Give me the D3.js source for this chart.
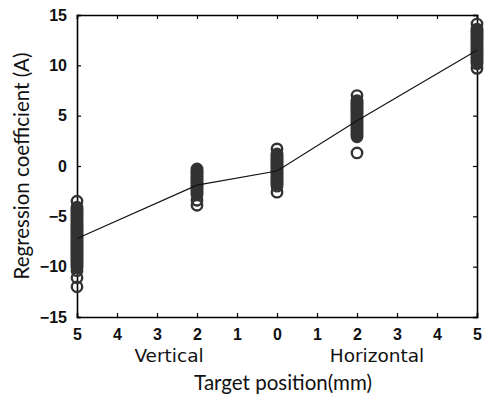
<!DOCTYPE html>
<html><head><meta charset="utf-8">
<script src="https://cdn.jsdelivr.net/npm/d3@7"></script>
<style>body{margin:0;background:#fff}svg{display:block}</style>
</head><body>
<script>
// Data
const positions = [-5, -2, 0, 2, 5];           // left = vertical, right = horizontal
const meanValues = [-7.2, -1.9, -0.5, 4.5, 11.5];
const groupV5 = [-3.5,-4.1,-4.25,-4.4,-4.55,-4.7,-4.85,-5.0,-5.15,-5.3,-5.45,-5.6,-5.75,-5.9,-6.05,-6.2,-6.35,-6.5,-6.65,-6.8,-6.95,-7.1,-7.25,-7.4,-7.55,-7.7,-7.85,-8.0,-8.15,-8.3,-8.45,-8.6,-8.75,-8.9,-9.05,-9.2,-9.35,-9.5,-9.65,-9.8,-9.95,-10.1,-10.4,-11.1,-12.0];
const groupV2 = [-0.3,-0.45,-0.6,-0.75,-0.9,-1.05,-1.2,-1.35,-1.5,-1.65,-1.8,-1.95,-2.1,-2.25,-2.4,-2.55,-2.7,-2.85,-3.4,-3.9];
const groupC0 = [1.7,1.2,1.05,0.9,0.75,0.6,0.45,0.3,0.15,0.0,-0.15,-0.3,-0.45,-0.6,-0.75,-0.9,-1.05,-1.2,-1.35,-1.5,-1.65,-1.8,-2.0,-2.6];
const groupH2 = [7.0,6.5,6.35,6.2,6.05,5.9,5.75,5.6,5.45,5.3,5.15,5.0,4.85,4.7,4.55,4.4,4.25,4.1,3.95,3.8,3.65,3.5,3.35,3.2,3.05,2.9,1.3];
const groupH5 = [14.1,13.6,13.45,13.3,13.15,13.0,12.85,12.7,12.55,12.4,12.25,12.1,11.95,11.8,11.65,11.5,11.35,11.2,11.05,10.9,10.75,10.6,10.45,10.3,10.15,9.7];
const groups = [groupV5, groupV2, groupC0, groupH2, groupH5];
const xTickValues = [-5,-4,-3,-2,-1,0,1,2,3,4,5];
const xTickLabels = ["5","4","3","2","1","0","1","2","3","4","5"];
const yTickValues = [-15,-10,-5,0,5,10,15];
const xTitle = "Target position(mm)";
const yTitle = "Regression coefficient (A)";
const subLabels = [{text:"Vertical", at:-2.7},{text:"Horizontal", at:2.5}];

const W = 484, H = 410;
const m = {left:77, right:7, top:15, bottom:93};
const svg = d3.select("body").append("svg").attr("width", W).attr("height", H);
const x = d3.scaleLinear().domain([-5,5]).range([m.left, W - m.right]);
const y = d3.scaleLinear().domain([-15,15]).range([H - m.bottom, m.top]);

const g = svg.append("g");
const tickFont = "'Liberation Sans', Arial, sans-serif";

// axes (ticks inward)
const xb = g.append("g").attr("transform", `translate(0,${y(-15)})`)
  .call(d3.axisBottom(x).tickValues(xTickValues).tickFormat((d,i)=>xTickLabels[i]).tickSize(-4).tickPadding(12));
const xt = g.append("g").attr("transform", `translate(0,${y(15)})`)
  .call(d3.axisTop(x).tickValues(xTickValues).tickFormat("").tickSize(-4));
const yl = g.append("g").attr("transform", `translate(${x(-5)},0)`)
  .call(d3.axisLeft(y).tickValues(yTickValues).tickFormat(d3.format("d")).tickSize(-4).tickPadding(10));
const yr = g.append("g").attr("transform", `translate(${x(5)},0)`)
  .call(d3.axisRight(y).tickValues(yTickValues).tickFormat("").tickSize(-4));
[xb,xt,yl,yr].forEach(a=>{
  a.selectAll(".domain").attr("stroke","#000").attr("stroke-width",1.6);
  a.selectAll(".tick line").attr("stroke","#000").attr("stroke-width",1.2);
  a.selectAll("text").attr("font-family",tickFont).attr("font-size",16).attr("font-weight","bold").attr("fill","#111");
});
yl.selectAll("text").text(d => d < 0 ? "\u2212" + Math.abs(d) : d);

// scatter
const pts = [];
groups.forEach((arr,i)=>arr.forEach(v=>pts.push({x:positions[i], v})));
g.append("g").selectAll("circle").data(pts).join("circle")
  .attr("cx", d=>x(d.x)).attr("cy", d=>y(d.v)).attr("r", 5.2)
  .attr("fill","none").attr("stroke","#333").attr("stroke-width",2.4);

// mean line
const line = d3.line().x((d,i)=>x(positions[i])).y(d=>y(d));
g.append("path").datum(meanValues).attr("d", line)
  .attr("fill","none").attr("stroke","#111").attr("stroke-width",1.1);

// sub labels
svg.selectAll("text.sub").data(subLabels).join("text").attr("class","sub")
  .attr("x", d=>x(d.at)).attr("y", 362).attr("text-anchor","middle")
  .attr("font-family", "'DejaVu Sans', sans-serif").attr("font-size",18.5).attr("fill","#111")
  .text(d=>d.text);

// titles
svg.append("text").attr("x", x(0)+6).attr("y", 390).attr("text-anchor","middle")
  .attr("font-family","Lato, 'Open Sans', sans-serif").attr("font-size",20.5).attr("fill","#111")
  .text(xTitle);
svg.append("text").attr("transform", `translate(29,${(y(15)+y(-15))/2}) rotate(-90)`)
  .attr("text-anchor","middle")
  .attr("font-family","Lato, 'Open Sans', sans-serif").attr("font-size",20.5).attr("fill","#111")
  .text(yTitle);
</script>
</body></html>
